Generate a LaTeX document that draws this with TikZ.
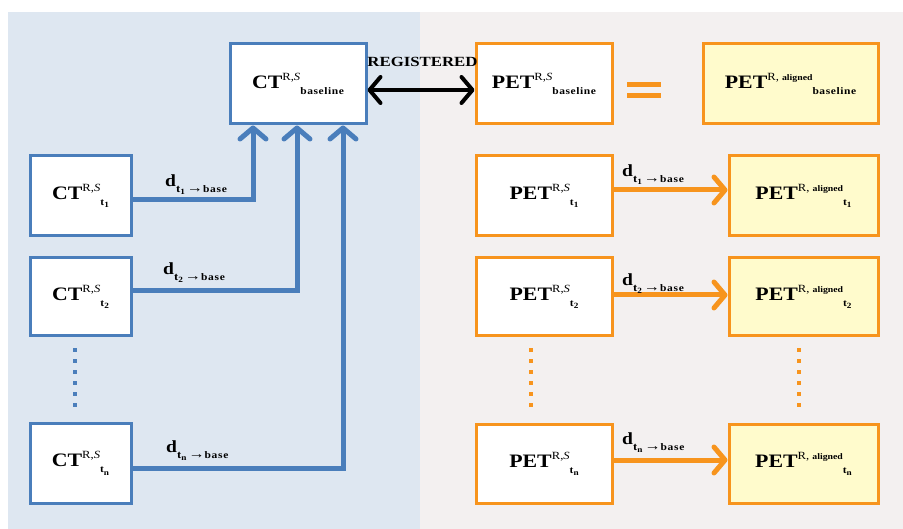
\documentclass[tikz,border=0pt]{standalone}
\usepackage{fontspec}
\setmainfont{Liberation Serif}
\usetikzlibrary{arrows.meta}
\definecolor{bluebg}{HTML}{DEE7F1}
\definecolor{graybg}{HTML}{F3F0F0}
\definecolor{ctblue}{HTML}{4A7EBB}
\definecolor{petor}{HTML}{F7941D}
\definecolor{alfill}{HTML}{FFFBCC}
\newcommand{\boxlbl}[3]{\scalebox{1.15}[1]{\fontsize{19}{19}\selectfont\bfseries #1\raisebox{0.42em}{\fontsize{11}{11}\selectfont\mdseries #2}\raisebox{-0.32em}{\fontsize{10}{10}\selectfont\bfseries\addfontfeatures{LetterSpace=5} #3}}}
\newcommand{\tsb}[1]{t\raisebox{-0.25em}{\fontsize{8}{8}\selectfont #1}}
\newcommand{\dlbl}[1]{\scalebox{1.15}[1]{\fontsize{17}{17}\selectfont\bfseries d\raisebox{-0.3em}{\fontsize{11}{11}\selectfont\tsb{#1}\,{\fontsize{14}{14}\selectfont →}{\fontsize{10}{10}\selectfont\addfontfeatures{LetterSpace=6}base}}}}
\newcommand{\alg}{{\fontsize{8.5}{8.5}\selectfont\bfseries aligned}}
\begin{document}
\begin{tikzpicture}[x=1pt,y=-1pt,
  ctbox/.style={draw=ctblue, line width=3pt, fill=white, minimum width=101pt, minimum height=80pt, inner sep=0pt},
  petbox/.style={draw=petor, line width=3pt, fill=white, minimum width=136pt, minimum height=80pt, inner sep=0pt},
  albox/.style={draw=petor, line width=3pt, fill=alfill, minimum width=149pt, minimum height=80pt, inner sep=0pt},
  ctarrow/.style={draw=ctblue, line width=5pt, -{Straight Barb[length=11pt,width=26pt,line cap=round,line join=round]}},
  petarrow/.style={draw=petor, line width=5pt, -{Straight Barb[length=11pt,width=26pt,line cap=round,line join=round]}},
  dlabel/.style={inner sep=0pt, anchor=west},
  dots/.style={line width=4pt, dash pattern=on 4pt off 7pt}
]
\useasboundingbox (0,0) rectangle (903,529);
\fill[white] (0,0) rectangle (903,529);
\fill[bluebg] (8,12) rectangle (420,529);
\fill[graybg] (420,12) rectangle (903,529);

% CT column
\node[ctbox, minimum width=136pt] (ctb) at (298,84) {\boxlbl{CT}{R,\textit{S}}{baseline}};
\node[ctbox] (ct1) at (80.5,196) {\boxlbl{CT}{R,\textit{S}}{\tsb{1}}};
\node[ctbox, minimum height=78pt] (ct2) at (80.5,297) {\boxlbl{CT}{R,\textit{S}}{\tsb{2}}};
\node[ctbox, minimum height=79pt] (ctn) at (80.5,463.5) {\boxlbl{CT}{R,\textit{S}}{\tsb{n}}};

\draw[ctarrow] ([yshift=-4pt]ct1.east) -| ([xshift=-45pt]ctb.south);
\draw[ctarrow] ([yshift=6pt]ct2.east) -| ([xshift=-1pt]ctb.south);
\draw[ctarrow] ([yshift=-5pt]ctn.east) -| ([xshift=45pt]ctb.south);
\draw[ctblue, dots] ([xshift=-5.5pt,yshift=-11pt]ct2.south) -- ([xshift=-5.5pt,yshift=11pt]ctn.north);

\node[dlabel] (l1) at (165,185) {\dlbl{1}};
\node[dlabel] (l2) at (163,273) {\dlbl{2}};
\node[dlabel] (ln) at (166,451) {\dlbl{n}};

% PET column
\node[petbox] (pb) at (544,84) {\boxlbl{PET}{R,\textit{S}}{baseline}};
\node[albox, minimum width=175pt] (ab) at (790.5,84) {\boxlbl{PET}{R, \alg}{baseline}};
\node[petbox] (p1) at (544,196) {\boxlbl{PET}{R,\textit{S}}{\tsb{1}}};
\node[albox] (a1) at (803.5,196) {\boxlbl{PET}{R, \alg}{\tsb{1}}};
\node[petbox, minimum height=78pt] (p2) at (544,297) {\boxlbl{PET}{R,\textit{S}}{\tsb{2}}};
\node[albox, minimum height=78pt] (a2) at (803.5,297) {\boxlbl{PET}{R, \alg}{\tsb{2}}};
\node[petbox, minimum height=78pt] (pn) at (544,464) {\boxlbl{PET}{R,\textit{S}}{\tsb{n}}};
\node[albox, minimum height=78pt] (an) at (803.5,464) {\boxlbl{PET}{R, \alg}{\tsb{n}}};

\draw[petarrow] ([yshift=6pt]p1.east) -- ([yshift=6pt]a1.west);
\draw[petarrow] ([yshift=2pt]p2.east) -- ([yshift=2pt]a2.west);
\draw[petarrow] ([yshift=4pt]pn.east) -- ([yshift=4pt]an.west);
\draw[petor, dots] ([xshift=-13pt,yshift=-11pt]p2.south) -- ([xshift=-13pt,yshift=11pt]pn.north);
\draw[petor, dots] ([xshift=-4.5pt,yshift=-11pt]a2.south) -- ([xshift=-4.5pt,yshift=11pt]an.north);

\node[dlabel] (m1) at (622,175) {\dlbl{1}};
\node[dlabel] (m2) at (622,284) {\dlbl{2}};
\node[dlabel] (mn) at (622,443) {\dlbl{n}};

% equal sign
\draw[petor, line width=5pt] (627,84.5) -- (661,84.5);
\draw[petor, line width=5pt] (627,95.5) -- (661,95.5);

% registered
\draw[line width=4pt, {Straight Barb[length=11pt,width=26pt,line cap=round,line join=round]}-{Straight Barb[length=11pt,width=26pt,line cap=round,line join=round]}] ([yshift=-6pt]ctb.east) -- ([yshift=-6pt]pb.west);
\node[inner sep=0pt] (reg) at (422.5,62) {\scalebox{1.2}[1]{\fontsize{14}{14}\selectfont\bfseries REGISTERED}};
\end{tikzpicture}
\end{document}
